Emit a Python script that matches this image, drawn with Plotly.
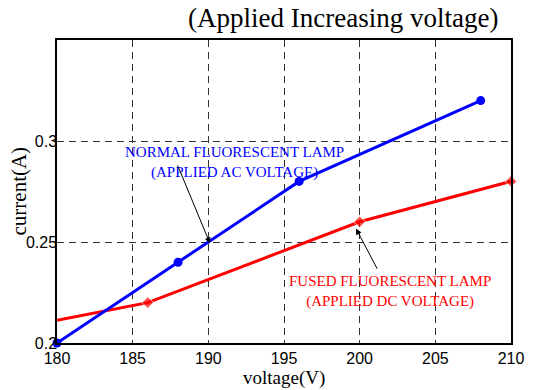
import plotly.graph_objects as go

# Data
normal_voltage = [180, 188, 196, 208]
normal_current = [0.20, 0.24, 0.28, 0.32]
fused_voltage = [180, 186, 200, 210]
fused_current = [0.2113, 0.22, 0.26, 0.28]
fused_marker_sizes = [0, 9, 9, 9]

x_ticks = [180, 185, 190, 195, 200, 205, 210]
y_ticks = [0.2, 0.25, 0.3]
y_tick_text = ["0.2", "0.25", "0.3"]

TIMES = "Liberation Serif, Times New Roman, serif"
SANS = "Liberation Sans, Arial, sans-serif"

fig = go.Figure()
fig.add_trace(go.Scatter(
    x=fused_voltage, y=fused_current, mode="lines+markers",
    line=dict(color="#ff0000", width=3),
    marker=dict(symbol="diamond", size=fused_marker_sizes, color="#ff0000"),
    cliponaxis=False, showlegend=False))
fig.add_trace(go.Scatter(
    x=normal_voltage, y=normal_current, mode="lines+markers",
    line=dict(color="#0000ff", width=3),
    marker=dict(symbol="circle", size=9, color="#0000ff"),
    cliponaxis=False, showlegend=False))

# Annotations
fig.add_annotation(x=191.76, y=0.2895, xref="x", yref="y",
                   text="NORMAL FLUORESCENT LAMP<br>(APPLIED AC VOLTAGE)",
                   showarrow=False, font=dict(family=TIMES, size=15, color="#0000ff"))
fig.add_annotation(x=190.11, y=0.2493, ax=187.93, ay=0.2887,
                   xref="x", yref="y", axref="x", ayref="y",
                   text="", showarrow=True, arrowhead=2, arrowsize=1.2,
                   arrowwidth=1, arrowcolor="black")
fig.add_annotation(x=202.0, y=0.2256, xref="x", yref="y",
                   text="FUSED FLUORESCENT LAMP<br>(APPLIED DC VOLTAGE)",
                   showarrow=False, font=dict(family=TIMES, size=15, color="#ff0000"))
fig.add_annotation(x=199.76, y=0.2567, ax=201.21, ay=0.236,
                   xref="x", yref="y", axref="x", ayref="y",
                   text="", showarrow=True, arrowhead=2, arrowsize=1.2,
                   arrowwidth=1, arrowcolor="black")

# Title and axis titles
fig.add_annotation(text="(Applied Increasing voltage)", xref="paper", yref="paper",
                   x=0.63, y=1.0, yshift=22, xanchor="center", yanchor="middle",
                   showarrow=False, font=dict(family=TIMES, size=27, color="black"))
fig.add_annotation(text="voltage(V)", xref="paper", yref="paper",
                   x=0.5, y=0.0, yshift=-35, xanchor="center", yanchor="middle",
                   showarrow=False, font=dict(family=TIMES, size=19, color="black"))
fig.add_annotation(text="current(A)", xref="paper", yref="paper",
                   x=0.0, y=0.5, xshift=-39, textangle=-90, xanchor="center",
                   yanchor="middle", showarrow=False,
                   font=dict(family=TIMES, size=21, color="black"))

fig.update_layout(
    width=549, height=390,
    margin=dict(l=57, r=38, t=40, b=47),
    paper_bgcolor="white", plot_bgcolor="white",
)
fig.update_xaxes(
    range=[180, 210], tickvals=x_ticks, ticks="", showline=True, mirror=True,
    linecolor="black", linewidth=1.5, automargin=False,
    showgrid=True, gridcolor="#333333", griddash="7px,5px", gridwidth=1,
    tickfont=dict(family=SANS, size=16, color="black"),
    zeroline=False)
fig.update_yaxes(
    range=[0.2, 0.35], tickvals=y_ticks, ticktext=y_tick_text, ticks="",
    showline=True, mirror=True, linecolor="black", linewidth=1.5, automargin=False,
    showgrid=True, gridcolor="#333333", griddash="7px,5px", gridwidth=1,
    tickfont=dict(family=SANS, size=16, color="black"), ticklabelstandoff=-5,
    zeroline=False)

fig.write_html("out.html", config={"displayModeBar": False},
               post_script="document.body.style.margin='0';document.body.style.padding='0';")
